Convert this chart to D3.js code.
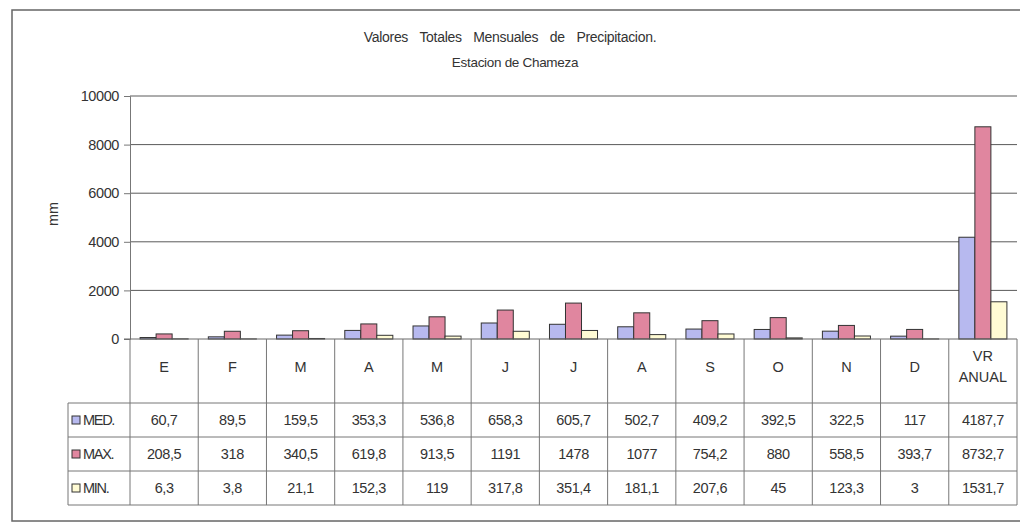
<!DOCTYPE html>
<html lang="es">
<head>
    <meta charset="utf-8">
    <title>Precipitacion Chameza</title>
    <script type="text/javascript" src="https://d3js.org/d3.v7.min.js"></script>
    <style>
        body { margin: 0; background: #fff; }
        svg text { font-family: "Liberation Sans", Arial, sans-serif; fill: #333; }
    </style>
</head>
<body>
<div id="chart"></div>
<script type="text/javascript">
    // data
    const categories = ["E", "F", "M", "A", "M ", "J", "J ", "A ", "S", "O", "N", "D", "VR ANUAL"];
    const series = ["MED.", "MAX.", "MIN."];
    const medValues = [60.7, 89.5, 159.5, 353.3, 536.8, 658.3, 605.7, 502.7, 409.2, 392.5, 322.5, 117, 4187.7];
    const maxValues = [208.5, 318, 340.5, 619.8, 913.5, 1191, 1478, 1077, 754.2, 880, 558.5, 393.7, 8732.7];
    const minValues = [6.3, 3.8, 21.1, 152.3, 119, 317.8, 351.4, 181.1, 207.6, 45, 123.3, 3, 1531.7];
    const yTicks = [0, 2000, 4000, 6000, 8000, 10000];
    const colors = ["#b7b9ef", "#e0869f", "#fffbd4"];

    const width = 1020;
    const height = 523;
    const margin = ({ left: 130, right: 3, top: 96, bottom: 184 });
    const fs = "14.5px";

    const svg = d3.select("#chart")
        .append("svg")
        .attr("width", width)
        .attr("height", height);

    // outer frame
    svg.append("rect")
        .attr("x", 12).attr("y", 10)
        .attr("width", 1030).attr("height", 511)
        .attr("fill", "none")
        .attr("stroke", "#666")
        .attr("stroke-width", 1.5);

    // titles
    svg.append("text")
        .attr("x", 510).attr("y", 42)
        .attr("text-anchor", "middle")
        .style("font-size", "14px")
        .style("letter-spacing", "-0.3px")
        .style("word-spacing", "8px")
        .text("Valores Totales Mensuales de Precipitacion.");
    svg.append("text")
        .attr("x", 515).attr("y", 67)
        .attr("text-anchor", "middle")
        .style("font-size", "13.5px")
        .style("letter-spacing", "-0.3px")
        .text("Estacion de Chameza");

    const x0 = d3.scaleBand()
        .domain(categories)
        .range([margin.left, width - margin.right])
        .paddingInner(0)
        .paddingOuter(0);

    const x1 = d3.scaleBand()
        .domain(series)
        .range([0, x0.bandwidth()])
        .paddingInner(0)
        .paddingOuter(0.63);

    const y = d3.scaleLinear()
        .domain([0, 10000])
        .range([height - margin.bottom, margin.top]);

    // gridlines
    svg.append("g")
        .attr("class", "grid")
        .selectAll("line")
        .data(yTicks.filter(d => d > 0))
        .enter()
        .append("line")
        .attr("x1", margin.left).attr("x2", width - margin.right)
        .attr("y1", d => y(d)).attr("y2", d => y(d))
        .attr("stroke", "#5a5a5a")
        .attr("stroke-width", 1);

    // y axis
    const yAxis = d3.axisLeft(y)
        .tickValues(yTicks)
        .tickFormat(d3.format("d"))
        .tickSize(6)
        .tickPadding(5);
    const yg = svg.append("g")
        .attr("transform", `translate(${margin.left},0)`)
        .call(yAxis);
    yg.select(".domain").attr("stroke", "#777");
    yg.selectAll(".tick line").attr("stroke", "#777");
    yg.selectAll(".tick text")
        .style("font-size", fs)
        .style("letter-spacing", "-0.4px")
        .attr("fill", "#333");

    svg.append("text")
        .attr("transform", "translate(58,214) rotate(-90)")
        .attr("text-anchor", "middle")
        .style("font-size", fs)
        .text("mm");

    // bars
    const rows = [medValues, maxValues, minValues];
    const barData = [];
    categories.forEach((c, i) => {
        series.forEach((s, j) => {
            barData.push({ cat: c, ser: s, value: rows[j][i], color: colors[j] });
        });
    });

    svg.append("g")
        .attr("class", "bars")
        .selectAll("rect")
        .data(barData)
        .enter()
        .append("rect")
        .attr("x", d => x0(d.cat) + x1(d.ser))
        .attr("y", d => y(d.value))
        .attr("width", x1.bandwidth())
        .attr("height", d => y(0) - y(d.value))
        .attr("fill", d => d.color)
        .attr("stroke", "#333")
        .attr("stroke-width", 1);

    // zero line
    svg.append("line")
        .attr("x1", margin.left - 6).attr("x2", width - margin.right)
        .attr("y1", y(0)).attr("y2", y(0))
        .attr("stroke", "#666");

    // data table
    const tableTop = y(0);
    const headerH = 64;
    const rowH = 34;
    const labelLeft = 68;
    const tableBottom = tableTop + headerH + rowH * 3;
    const table = svg.append("g").attr("class", "table");

    // vertical cell lines
    const vLines = categories.map(c => x0(c)).concat([width - margin.right]);
    table.selectAll("line.v")
        .data(vLines)
        .enter()
        .append("line")
        .attr("class", "v")
        .attr("x1", d => d).attr("x2", d => d)
        .attr("y1", tableTop).attr("y2", tableBottom)
        .attr("stroke", "#777");
    table.append("line")
        .attr("x1", labelLeft).attr("x2", labelLeft)
        .attr("y1", tableTop + headerH).attr("y2", tableBottom)
        .attr("stroke", "#777");

    // horizontal cell lines
    const hLines = [0, 1, 2, 3].map(i => tableTop + headerH + i * rowH);
    table.selectAll("line.h")
        .data(hLines)
        .enter()
        .append("line")
        .attr("class", "h")
        .attr("x1", labelLeft).attr("x2", width - margin.right)
        .attr("y1", d => d).attr("y2", d => d)
        .attr("stroke", "#777");

    // category labels
    const catLabels = table.selectAll("text.cat")
        .data(categories)
        .enter()
        .append("text")
        .attr("class", "cat")
        .attr("x", d => x0(d) + x0.bandwidth() / 2)
        .attr("text-anchor", "middle")
        .style("font-size", fs);
    catLabels.each(function (d) {
        const parts = d.trim().split(" ");
        const el = d3.select(this);
        if (parts.length === 1) {
            el.attr("y", tableTop + 33).text(parts[0]);
        } else {
            parts.forEach((p, k) => {
                el.append("tspan")
                    .attr("x", x0(d) + x0.bandwidth() / 2)
                    .attr("y", tableTop + 22 + k * 21)
                    .text(p);
            });
        }
    });

    // legend keys + series names
    series.forEach((s, j) => {
        const cy = tableTop + headerH + j * rowH + rowH / 2;
        table.append("rect")
            .attr("x", 72).attr("y", cy - 4)
            .attr("width", 8).attr("height", 8)
            .attr("fill", colors[j])
            .attr("stroke", "#333");
        table.append("text")
            .attr("x", 83).attr("y", cy + 5)
            .style("font-size", fs)
            .style("letter-spacing", "-1.3px")
            .text(s);

        table.selectAll("text.val" + j)
            .data(rows[j])
            .enter()
            .append("text")
            .attr("class", "val" + j)
            .attr("x", (d, i) => x0(categories[i]) + x0.bandwidth() / 2)
            .attr("y", cy + 5)
            .attr("text-anchor", "middle")
            .style("font-size", fs)
            .style("letter-spacing", "-0.4px")
            .text(d => String(d).replace(".", ","));
    });
</script>
</body>
</html>
